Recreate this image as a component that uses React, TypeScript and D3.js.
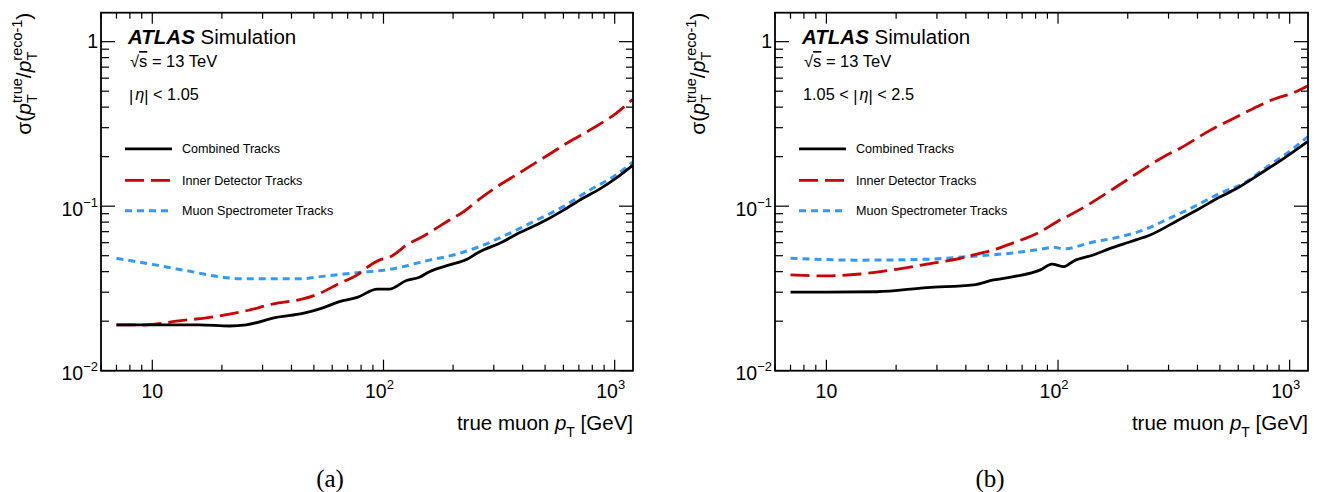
import React from "react";
import * as d3 from "d3";

// ---------- data ----------
const seriesNames = ["Combined Tracks", "Inner Detector Tracks", "Muon Spectrometer Tracks"];

// Panel (a): |eta| < 1.05
const aCombinedPt = [7, 10, 16, 21.6, 25.5, 34.4, 44.8, 54.7, 64.5, 77, 94, 106, 125, 143, 158, 193, 231, 255, 328, 387, 427, 505, 596, 728, 860, 1014, 1195];
const aCombinedVal = [0.019, 0.019, 0.019, 0.0187, 0.019, 0.0211, 0.0223, 0.0241, 0.0263, 0.0279, 0.0313, 0.0313, 0.0352, 0.037, 0.04, 0.044, 0.0478, 0.052, 0.0608, 0.069, 0.0734, 0.0824, 0.094, 0.1117, 0.127, 0.148, 0.177];
const aInnerPt = [7, 9.4, 12.7, 17.7, 24.7, 34.4, 44.8, 52.9, 64.5, 77, 84, 96, 106, 129, 143, 193, 220, 268, 318, 375, 489, 636, 803, 1014, 1195];
const aInnerVal = [0.019, 0.019, 0.02, 0.0211, 0.0229, 0.0257, 0.0273, 0.0295, 0.034, 0.0382, 0.042, 0.047, 0.0489, 0.0594, 0.0638, 0.0824, 0.0918, 0.114, 0.1345, 0.155, 0.1955, 0.2466, 0.297, 0.367, 0.445];
const aMuonPt = [7, 9.7, 14, 20.2, 23.8, 43.4, 56.5, 77, 106, 158, 206, 260, 351, 457, 596, 778, 1014, 1195];
const aMuonVal = [0.0482, 0.0446, 0.0406, 0.037, 0.0362, 0.0362, 0.0377, 0.0394, 0.0413, 0.047, 0.051, 0.0568, 0.0684, 0.082, 0.099, 0.125, 0.155, 0.185];

// Panel (b): 1.05 < |eta| < 2.5
const bCombinedPt = [7, 10, 16.5, 27.2, 43.2, 52.7, 64.2, 83.9, 94, 106, 117, 142, 168, 205, 250, 327, 398, 502, 593, 748, 944, 1200];
const bCombinedVal = [0.03, 0.03, 0.0302, 0.032, 0.0332, 0.0356, 0.0373, 0.041, 0.0445, 0.0429, 0.0465, 0.0505, 0.0554, 0.0608, 0.0668, 0.0816, 0.0948, 0.114, 0.1285, 0.158, 0.1955, 0.248];
const bInnerPt = [7, 10, 14, 19.3, 27.2, 37.8, 46, 52.7, 60.2, 84, 99, 109, 138, 174, 219, 286, 337, 455, 574, 700, 853, 1042, 1200];
const bInnerVal = [0.0382, 0.0377, 0.0387, 0.041, 0.0445, 0.0482, 0.0517, 0.0542, 0.058, 0.07, 0.0805, 0.0863, 0.104, 0.128, 0.158, 0.2, 0.225, 0.29, 0.342, 0.394, 0.447, 0.49, 0.54];
const bMuonPt = [7, 14, 27.2, 40.4, 64, 84, 96, 106, 138, 186, 234, 296, 385, 502, 634, 800, 1006, 1200];
const bMuonVal = [0.0482, 0.047, 0.0476, 0.0493, 0.052, 0.0547, 0.0562, 0.055, 0.06, 0.0653, 0.0716, 0.0832, 0.099, 0.12, 0.138, 0.174, 0.217, 0.265];

const xMajorTicks = [10, 100, 1000];
const xMajorLabels = ["10", "10", "10"];
const xMajorSup = ["", "2", "3"];
const yMajorTicks = [1, 0.1, 0.01];
const yMajorLabels = ["1", "10", "10"];
const yMajorSup = ["", "\u22121", "\u22122"];

const panelTags = ["(a)", "(b)"];
const etaLabels = ["a", "b"];

// ---------- styles ----------
const SANS = "'Liberation Sans', Arial, Helvetica, sans-serif";
const SERIF = "'Liberation Serif', 'Times New Roman', serif";
const colors = ["#000000", "#cc0000", "#3399ff"];
const dashes = ["none", "19 7", "7 5"];
const widths = [2.8, 2.8, 3];

const TOP = 12.7;
const BOTTOM = 370.7;

type Panel = {
  x0: number;
  x1: number;
  series: { pt: number[]; val: number[] }[];
  tag: string;
  tagX: number;
  eta: string;
};

function EtaText({ x, y, kind }: { x: number; y: number; kind: string }) {
  return (
    <text x={x} y={y} fontFamily={SANS} fontSize={16.3} fill="#000">
      {kind === "b" ? "1.05 < " : ""}
      <tspan dy={2}>|</tspan>
      <tspan fontStyle="italic" dx={2} dy={-2}>η</tspan>
      <tspan dy={2}>|</tspan>
      <tspan dy={-2}>{kind === "b" ? " < 2.5" : " < 1.05"}</tspan>
    </text>
  );
}

function PanelView({ p }: { p: Panel }) {
  const x = d3.scaleLog().domain([6, 1200]).range([p.x0, p.x1]);
  const y = d3.scaleLog().domain([0.01, 1.5]).range([BOTTOM, TOP]);

  const line = d3
    .line<[number, number]>()
    .x((d) => x(d[0]))
    .y((d) => y(d[1]))
    .curve(d3.curveMonotoneX);

  const xMinor: number[] = [];
  [1, 10, 100].forEach((dec) => {
    for (let k = 2; k <= 9; k++) {
      const v = k * dec;
      if (v >= 6 && v <= 1200) xMinor.push(v);
    }
  });
  const yMinor: number[] = [];
  [0.01, 0.1, 1].forEach((dec) => {
    for (let k = 2; k <= 9; k++) {
      const v = k * dec;
      if (v > 0.01 && v <= 1.5) yMinor.push(v);
    }
  });

  const L = p.x0;
  const legendY = [148.8, 180.3, 210.8];

  return (
    <g>
      <defs>
        <clipPath id={"clip" + p.tag}>
          <rect x={p.x0} y={TOP} width={p.x1 - p.x0} height={BOTTOM - TOP} />
        </clipPath>
      </defs>
      {/* curves */}
      <g clipPath={`url(#clip${p.tag})`}>
        {[2, 1, 0].map((i) => {
          const s = p.series[i];
          const pts = s.pt.map((v, j) => [v, s.val[j]] as [number, number]);
          return (
            <path
              key={i}
              d={line(pts) || ""}
              fill="none"
              stroke={colors[i]}
              strokeWidth={widths[i]}
              strokeDasharray={dashes[i]}
              strokeLinejoin="round"
            />
          );
        })}
      </g>
      {/* frame */}
      <rect x={p.x0} y={TOP} width={p.x1 - p.x0} height={BOTTOM - TOP} fill="none" stroke="#000" strokeWidth={1.8} />
      {/* x ticks */}
      {xMajorTicks.map((t) => (
        <g key={"xm" + t}>
          <line x1={x(t)} x2={x(t)} y1={BOTTOM} y2={BOTTOM - 11} stroke="#000" strokeWidth={1.2} />
          <line x1={x(t)} x2={x(t)} y1={TOP} y2={TOP + 11} stroke="#000" strokeWidth={1.2} />
        </g>
      ))}
      {xMinor.map((t) => (
        <g key={"xn" + t}>
          <line x1={x(t)} x2={x(t)} y1={BOTTOM} y2={BOTTOM - 6} stroke="#000" strokeWidth={1.2} />
          <line x1={x(t)} x2={x(t)} y1={TOP} y2={TOP + 6} stroke="#000" strokeWidth={1.2} />
        </g>
      ))}
      {/* y ticks */}
      {yMajorTicks.map((t) => (
        <g key={"ym" + t}>
          <line x1={p.x0} x2={p.x0 + 14} y1={y(t)} y2={y(t)} stroke="#000" strokeWidth={1.2} />
          <line x1={p.x1} x2={p.x1 - 14} y1={y(t)} y2={y(t)} stroke="#000" strokeWidth={1.2} />
        </g>
      ))}
      {yMinor.map((t) => (
        <g key={"yn" + t}>
          <line x1={p.x0} x2={p.x0 + 8} y1={y(t)} y2={y(t)} stroke="#000" strokeWidth={1.2} />
          <line x1={p.x1} x2={p.x1 - 7} y1={y(t)} y2={y(t)} stroke="#000" strokeWidth={1.2} />
        </g>
      ))}
      {/* x tick labels */}
      {xMajorTicks.map((t, i) => (
        <text key={"xl" + t} x={x(t) - (xMajorSup[i] ? 4 : 0)} y={398} textAnchor="middle" fontFamily={SANS} fontSize={19.5} fill="#000">
          {xMajorLabels[i]}
          {xMajorSup[i] ? (
            <tspan fontSize={13} dy={-9}>
              {xMajorSup[i]}
            </tspan>
          ) : null}
        </text>
      ))}
      {/* y tick labels */}
      {yMajorTicks.map((t, i) => (
        <text key={"yl" + t} x={p.x0 - 3} y={y(t) + (yMajorSup[i] ? 9.5 : 6.8)} textAnchor="end" fontFamily={SANS} fontSize={19.5} fill="#000">
          {yMajorLabels[i]}
          {yMajorSup[i] ? (
            <tspan fontSize={13} dy={-9}>
              {yMajorSup[i]}
            </tspan>
          ) : null}
        </text>
      ))}
      {/* y axis title */}
      <text transform={`translate(${p.x0 - 70},${TOP}) rotate(-90)`} textAnchor="end" fontFamily={SANS} fontSize={21} fill="#000">
        <tspan>σ(</tspan>
        <tspan fontStyle="italic">p</tspan>
        <tspan fontSize={14.5} dy={-9.5}>true</tspan>
        <tspan fontSize={14.5} dx={-25} dy={15.5}>T</tspan>
        <tspan dx={16} dy={-6}>/</tspan>
        <tspan fontStyle="italic">p</tspan>
        <tspan fontSize={14.5} dy={-9.5}>reco-1</tspan>
        <tspan fontSize={14.5} dx={-41} dy={15.5}>T</tspan>
        <tspan dx={32} dy={-6}>)</tspan>
      </text>
      {/* x axis title */}
      <text x={p.x1} y={430} textAnchor="end" fontFamily={SANS} fontSize={20.5} fill="#000">
        <tspan>true muon </tspan>
        <tspan fontStyle="italic">p</tspan>
        <tspan fontSize={14} dy={6.5}>T</tspan>
        <tspan dy={-6.5}> [GeV]</tspan>
      </text>
      {/* ATLAS label */}
      <text x={L + 27} y={43.5} fontFamily={SANS} fontSize={20.5} fill="#000">
        <tspan fontWeight="bold" fontStyle="italic">ATLAS</tspan>
        <tspan> Simulation</tspan>
      </text>
      <text x={L + 29} y={67} fontFamily={SANS} fontSize={16.5} fill="#000">
        <tspan>√</tspan>
        <tspan textDecoration="overline">s</tspan>
        <tspan> = 13 TeV</tspan>
      </text>
      <EtaText x={L + 28} y={100} kind={p.eta} />
      {/* legend */}
      {seriesNames.map((name, i) => (
        <g key={name}>
          <line x1={L + 24} x2={L + 71} y1={legendY[i]} y2={legendY[i]} stroke={colors[i]} strokeWidth={widths[i]} strokeDasharray={dashes[i]} />
          <text x={L + 81} y={legendY[i] + 4.6} fontFamily={SANS} fontSize={12.6} fill="#000">
            {name}
          </text>
        </g>
      ))}
      {/* panel tag */}
      <text x={p.tagX} y={487} textAnchor="middle" fontFamily={SERIF} fontSize={25} fill="#000">
        {p.tag}
      </text>
    </g>
  );
}

export default function App() {
  const panels: Panel[] = [
    {
      x0: 101,
      x1: 633,
      series: [
        { pt: aCombinedPt, val: aCombinedVal },
        { pt: aInnerPt, val: aInnerVal },
        { pt: aMuonPt, val: aMuonVal },
      ],
      tag: panelTags[0],
      tagX: 330,
      eta: etaLabels[0],
    },
    {
      x0: 775,
      x1: 1308,
      series: [
        { pt: bCombinedPt, val: bCombinedVal },
        { pt: bInnerPt, val: bInnerVal },
        { pt: bMuonPt, val: bMuonVal },
      ],
      tag: panelTags[1],
      tagX: 990,
      eta: etaLabels[1],
    },
  ];
  return (
    <svg
      width={1318}
      height={492}
      viewBox="0 0 1318 492"
      style={{ position: "absolute", left: 0, top: 0, background: "#fff" }}
    >
      <rect x={0} y={0} width={1318} height={492} fill="#fff" />
      {panels.map((p) => (
        <PanelView key={p.tag} p={p} />
      ))}
    </svg>
  );
}
